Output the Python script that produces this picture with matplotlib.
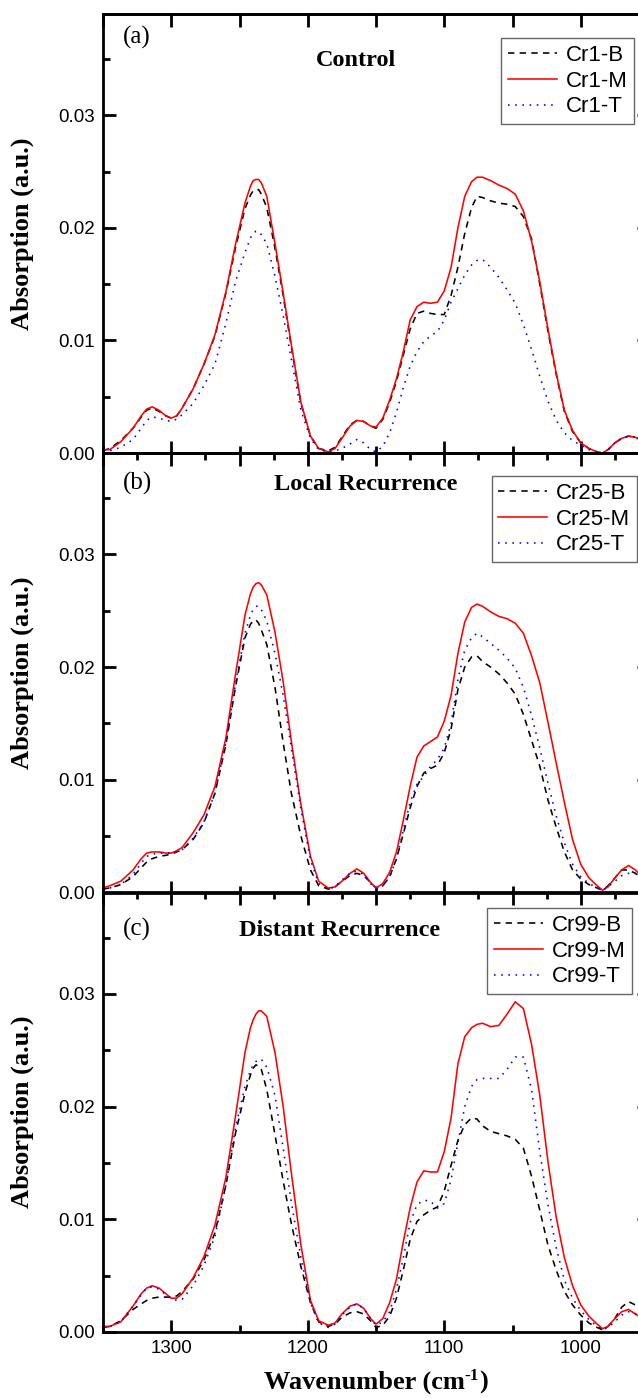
import numpy as np
import matplotlib
matplotlib.use('Agg')
import matplotlib.pyplot as plt
from matplotlib.ticker import MultipleLocator, FormatStrFormatter, NullFormatter

# shared wavenumber grid (cm-1)
wavenumber = [1350, 1345, 1337, 1328, 1322, 1318, 1314, 1309, 1304, 1300,
              1296, 1292, 1284, 1276, 1268, 1260, 1253, 1246, 1242, 1240,
              1238, 1236, 1234, 1230, 1224, 1218, 1212, 1205, 1198, 1192,
              1185, 1180, 1175, 1169, 1164, 1159, 1154, 1150, 1145, 1140,
              1135, 1130, 1125, 1120, 1115, 1110, 1105, 1100, 1095, 1090,
              1085, 1080, 1076, 1072, 1066, 1060, 1054, 1048, 1042, 1036,
              1030, 1024, 1018, 1012, 1006, 1000, 994, 988, 984, 980,
              975, 970, 965, 960, 955, 950]

# (a) Control
cr1_b = [0.0002, 0.0004, 0.0011, 0.0022, 0.0032, 0.0038, 0.0040, 0.0037, 0.0033, 0.0031,
         0.0033, 0.0040, 0.0057, 0.0079, 0.0104, 0.0142, 0.0182, 0.0217, 0.0229, 0.0233,
         0.0234, 0.0234, 0.0230, 0.0218, 0.0182, 0.0140, 0.0094, 0.0044, 0.0015, 0.0004,
         0.0002, 0.0005, 0.0014, 0.0025, 0.0029, 0.0028, 0.0024, 0.0022, 0.0030, 0.0045,
         0.0064, 0.0087, 0.0110, 0.0124, 0.0126, 0.0124, 0.0123, 0.0123, 0.0140, 0.0165,
         0.0195, 0.0218, 0.0228, 0.0227, 0.0224, 0.0222, 0.0221, 0.0219, 0.0210, 0.0190,
         0.0150, 0.0108, 0.0070, 0.0037, 0.0019, 0.0009, 0.0004, 0.0001, 0.0000, 0.0003,
         0.0009, 0.0013, 0.0015, 0.0014, 0.0011, 0.0008]
cr1_m = [0.0003, 0.0003, 0.0010, 0.0022, 0.0033, 0.0039, 0.0041, 0.0038, 0.0033, 0.0031,
         0.0033, 0.0040, 0.0057, 0.0079, 0.0105, 0.0143, 0.0185, 0.0222, 0.0237, 0.0242,
         0.0243, 0.0243, 0.0240, 0.0228, 0.0186, 0.0142, 0.0096, 0.0045, 0.0015, 0.0004,
         0.0001, 0.0004, 0.0013, 0.0024, 0.0029, 0.0028, 0.0024, 0.0023, 0.0031, 0.0047,
         0.0066, 0.0090, 0.0118, 0.0130, 0.0134, 0.0133, 0.0134, 0.0144, 0.0165, 0.0200,
         0.0228, 0.0241, 0.0245, 0.0245, 0.0242, 0.0238, 0.0235, 0.0230, 0.0215, 0.0188,
         0.0152, 0.0110, 0.0071, 0.0038, 0.0020, 0.0009, 0.0004, 0.0001, 0.0000, 0.0003,
         0.0009, 0.0013, 0.0015, 0.0014, 0.0011, 0.0008]
cr1_t = [0.0002, 0.0002, 0.0005, 0.0012, 0.0022, 0.0029, 0.0032, 0.0031, 0.0029, 0.0028,
         0.0030, 0.0034, 0.0044, 0.0060, 0.0079, 0.0115, 0.0152, 0.0178, 0.0191, 0.0195,
         0.0197, 0.0197, 0.0194, 0.0186, 0.0157, 0.0122, 0.0083, 0.0038, 0.0013, 0.0003,
         0.0001, 0.0002, 0.0004, 0.0008, 0.0012, 0.0009, 0.0003, 0.0001, 0.0006, 0.0018,
         0.0036, 0.0058, 0.0077, 0.0090, 0.0099, 0.0104, 0.0108, 0.0118, 0.0134, 0.0146,
         0.0158, 0.0167, 0.0171, 0.0172, 0.0165, 0.0156, 0.0145, 0.0133, 0.0114, 0.0092,
         0.0068, 0.0046, 0.0029, 0.0018, 0.0011, 0.0007, 0.0003, 0.0001, 0.0000, 0.0003,
         0.0009, 0.0013, 0.0015, 0.0014, 0.0011, 0.0008]

# (b) Local Recurrence
cr25_b = [0.0003, 0.0004, 0.0007, 0.0014, 0.0022, 0.0027, 0.0030, 0.0032, 0.0033, 0.0034,
          0.0036, 0.0038, 0.0047, 0.0062, 0.0088, 0.0131, 0.0182, 0.0226, 0.0238, 0.0241,
          0.0242, 0.0239, 0.0233, 0.0220, 0.0182, 0.0133, 0.0088, 0.0050, 0.0020, 0.0006,
          0.0003, 0.0005, 0.0010, 0.0015, 0.0017, 0.0015, 0.0009, 0.0004, 0.0006, 0.0014,
          0.0030, 0.0052, 0.0075, 0.0094, 0.0106, 0.0110, 0.0113, 0.0124, 0.0145, 0.0180,
          0.0200, 0.0209, 0.0210, 0.0205, 0.0200, 0.0194, 0.0186, 0.0176, 0.0158, 0.0135,
          0.0112, 0.0082, 0.0058, 0.0036, 0.0020, 0.0012, 0.0007, 0.0004, 0.0002, 0.0006,
          0.0013, 0.0020, 0.0020, 0.0017, 0.0013, 0.0010]
cr25_m = [0.0004, 0.0006, 0.0010, 0.0020, 0.0030, 0.0035, 0.0036, 0.0036, 0.0035, 0.0035,
          0.0037, 0.0040, 0.0053, 0.0069, 0.0094, 0.0137, 0.0193, 0.0246, 0.0265, 0.0271,
          0.0274, 0.0275, 0.0273, 0.0264, 0.0231, 0.0187, 0.0134, 0.0078, 0.0032, 0.0010,
          0.0004, 0.0005, 0.0010, 0.0017, 0.0021, 0.0017, 0.0009, 0.0004, 0.0008, 0.0018,
          0.0036, 0.0064, 0.0094, 0.0120, 0.0130, 0.0134, 0.0138, 0.0152, 0.0175, 0.0212,
          0.0240, 0.0253, 0.0256, 0.0254, 0.0249, 0.0245, 0.0243, 0.0239, 0.0230, 0.0210,
          0.0186, 0.0151, 0.0115, 0.0080, 0.0047, 0.0025, 0.0013, 0.0006, 0.0002, 0.0005,
          0.0013, 0.0020, 0.0024, 0.0020, 0.0014, 0.0010]
cr25_t = [0.0002, 0.0004, 0.0007, 0.0016, 0.0026, 0.0032, 0.0034, 0.0035, 0.0035, 0.0035,
          0.0036, 0.0038, 0.0048, 0.0063, 0.0088, 0.0133, 0.0185, 0.0230, 0.0246, 0.0251,
          0.0254, 0.0254, 0.0251, 0.0241, 0.0212, 0.0175, 0.0128, 0.0074, 0.0029, 0.0008,
          0.0003, 0.0005, 0.0011, 0.0017, 0.0019, 0.0016, 0.0008, 0.0003, 0.0006, 0.0014,
          0.0030, 0.0055, 0.0080, 0.0096, 0.0103, 0.0112, 0.0118, 0.0128, 0.0150, 0.0189,
          0.0215, 0.0226, 0.0230, 0.0227, 0.0221, 0.0215, 0.0208, 0.0199, 0.0182, 0.0157,
          0.0128, 0.0097, 0.0068, 0.0044, 0.0025, 0.0014, 0.0008, 0.0004, 0.0002, 0.0005,
          0.0010, 0.0015, 0.0017, 0.0017, 0.0014, 0.0011]

# (c) Distant Recurrence
cr99_b = [0.0004, 0.0005, 0.0010, 0.0020, 0.0025, 0.0028, 0.0030, 0.0031, 0.0031, 0.0031,
          0.0032, 0.0036, 0.0047, 0.0064, 0.0088, 0.0130, 0.0176, 0.0212, 0.0228, 0.0234,
          0.0237, 0.0236, 0.0233, 0.0215, 0.0175, 0.0134, 0.0096, 0.0058, 0.0026, 0.0009,
          0.0005, 0.0007, 0.0013, 0.0017, 0.0018, 0.0016, 0.0010, 0.0004, 0.0006, 0.0014,
          0.0030, 0.0055, 0.0082, 0.0098, 0.0104, 0.0108, 0.0111, 0.0125, 0.0148, 0.0170,
          0.0184, 0.0190, 0.0189, 0.0183, 0.0178, 0.0176, 0.0174, 0.0171, 0.0163, 0.0138,
          0.0108, 0.0077, 0.0055, 0.0036, 0.0024, 0.0015, 0.0008, 0.0004, 0.0002, 0.0005,
          0.0012, 0.0022, 0.0027, 0.0024, 0.0020, 0.0016]
cr99_m = [0.0005, 0.0005, 0.0009, 0.0023, 0.0034, 0.0039, 0.0041, 0.0039, 0.0034, 0.0030,
          0.0030, 0.0034, 0.0048, 0.0067, 0.0095, 0.0137, 0.0191, 0.0248, 0.0270, 0.0277,
          0.0282, 0.0285, 0.0285, 0.0280, 0.0248, 0.0200, 0.0141, 0.0077, 0.0028, 0.0010,
          0.0006, 0.0008, 0.0016, 0.0023, 0.0025, 0.0021, 0.0012, 0.0007, 0.0012, 0.0026,
          0.0047, 0.0080, 0.0110, 0.0133, 0.0143, 0.0142, 0.0142, 0.0160, 0.0190, 0.0238,
          0.0262, 0.0270, 0.0273, 0.0274, 0.0271, 0.0272, 0.0282, 0.0293, 0.0287, 0.0255,
          0.0210, 0.0151, 0.0102, 0.0066, 0.0041, 0.0024, 0.0014, 0.0007, 0.0003, 0.0005,
          0.0012, 0.0018, 0.0020, 0.0016, 0.0012, 0.0009]
cr99_t = [0.0005, 0.0005, 0.0009, 0.0023, 0.0033, 0.0039, 0.0040, 0.0038, 0.0033, 0.0030,
          0.0028, 0.0029, 0.0041, 0.0059, 0.0085, 0.0130, 0.0181, 0.0218, 0.0232, 0.0237,
          0.0240, 0.0242, 0.0242, 0.0235, 0.0210, 0.0163, 0.0115, 0.0066, 0.0026, 0.0008,
          0.0004, 0.0007, 0.0015, 0.0022, 0.0025, 0.0021, 0.0012, 0.0006, 0.0009, 0.0018,
          0.0038, 0.0066, 0.0097, 0.0113, 0.0117, 0.0116, 0.0110, 0.0114, 0.0135, 0.0168,
          0.0200, 0.0218, 0.0224, 0.0225, 0.0225, 0.0225, 0.0233, 0.0244, 0.0244, 0.0215,
          0.0160, 0.0113, 0.0075, 0.0046, 0.0030, 0.0019, 0.0011, 0.0005, 0.0002, 0.0004,
          0.0009, 0.0015, 0.0018, 0.0016, 0.0014, 0.0012]

panels = [
    ('(a)', 'Control', ['Cr1-B', 'Cr1-M', 'Cr1-T'], [cr1_b, cr1_m, cr1_t]),
    ('(b)', 'Local Recurrence', ['Cr25-B', 'Cr25-M', 'Cr25-T'], [cr25_b, cr25_m, cr25_t]),
    ('(c)', 'Distant Recurrence', ['Cr99-B', 'Cr99-M', 'Cr99-T'], [cr99_b, cr99_m, cr99_t]),
]

W, H = 638, 1398
serif = 'Liberation Serif'
sans = 'Liberation Sans'
plt.rcParams['font.family'] = sans

fig = plt.figure(figsize=(W / 100, H / 100), dpi=100)

# pixel layout of the stacked panels (axes run past the right edge, as in the original crop)
left_px, right_px = 103, 649
tops = [14, 453, 892.5]
bottoms = [453, 892.5, 1332]
legend_anchor = [(634, 38), (637, 476), (632, 908)]
title_pos = [(356, 60), (366, 484), (340, 931)]
tag_pos = [(137, 37), (137, 483), (137, 929)]

styles = [dict(color='black', ls=(0, (4, 3.3))),
          dict(color='#ff0000', ls='-'),
          dict(color='#0000ff', ls=(0, (1, 3.5)))]

for i, (tag, title, labels, series) in enumerate(panels):
    ax = fig.add_axes([left_px / W, 1 - bottoms[i] / H,
                       (right_px - left_px) / W, (bottoms[i] - tops[i]) / H])
    handles = []
    for y, lab, st in zip(series, labels, styles):
        h, = ax.plot(wavenumber, y, lw=1.15, label=lab, solid_joinstyle='round', **st)
        handles.append(h)
    ax.set_xlim(1350, 950)
    ax.set_ylim(0, 0.039)
    ax.xaxis.set_major_locator(MultipleLocator(100))
    ax.xaxis.set_minor_locator(MultipleLocator(50))
    ax.yaxis.set_major_locator(MultipleLocator(0.01))
    ax.yaxis.set_minor_locator(MultipleLocator(0.005))
    ax.yaxis.set_major_formatter(FormatStrFormatter('%.2f'))
    ax.tick_params(which='both', direction='in', width=2, top=False, right=True,
                   labelsize=13.5, pad=6)
    ax.tick_params(which='major', length=9)
    ax.tick_params(which='minor', length=5)
    ax.tick_params(axis='x', labelbottom=(i == 2))
    for sp in ax.spines.values():
        sp.set_linewidth(2)

    top = ax.secondary_xaxis('top')
    top.xaxis.set_major_locator(MultipleLocator(50))
    top.xaxis.set_major_formatter(NullFormatter())
    if i > 0:
        top.xaxis.set_minor_locator(MultipleLocator(25))
    top.tick_params(which='both', direction='in', width=2)
    top.tick_params(which='major', length=9)
    top.tick_params(which='minor', length=5)
    top.spines['top'].set_linewidth(2)

    lx, ly = legend_anchor[i]
    leg = ax.legend(handles=handles, loc='upper right',
                    bbox_to_anchor=(lx / W, 1 - ly / H), bbox_transform=fig.transFigure,
                    borderaxespad=0, fancybox=False, framealpha=1, edgecolor='#666666',
                    prop={'family': sans, 'size': 16}, handlelength=2.2,
                    handletextpad=0.4, borderpad=0.3, labelspacing=0.22)
    leg.get_frame().set_linewidth(1)

    tx, ty = title_pos[i]
    fig.text(tx / W, 1 - ty / H, title, ha='center', va='center',
             family=serif, weight='bold', size=17.5)
    px, py = tag_pos[i]
    fig.text(px / W, 1 - py / H, tag, ha='center', va='center', family=serif, size=18)
    fig.text(22 / W, 1 - (tops[i] + bottoms[i]) / 2 / H, 'Absorption (a.u.)',
             rotation=90, ha='center', va='center', family=serif, weight='bold', size=19)

# x label with a plain hyphen in the superscript, pieced together
renderer = fig.canvas.get_renderer()
base_y = 1389
xl_font = dict(family=serif, weight='bold')
parts = [('Wavenumber (cm', 19, 0), ('-1', 12.5, 9), (')', 19, 0)]
texts = [fig.text(0, 1 - (base_y - dy) / H, s, va='baseline', ha='left', size=sz, **xl_font)
         for s, sz, dy in parts]
widths = [t.get_window_extent(renderer).width for t in texts]
x0 = 376 - sum(widths) / 2
for t, w in zip(texts, widths):
    t.set_x(x0 / W)
    x0 += w

fig.savefig('out.png', dpi=100)
